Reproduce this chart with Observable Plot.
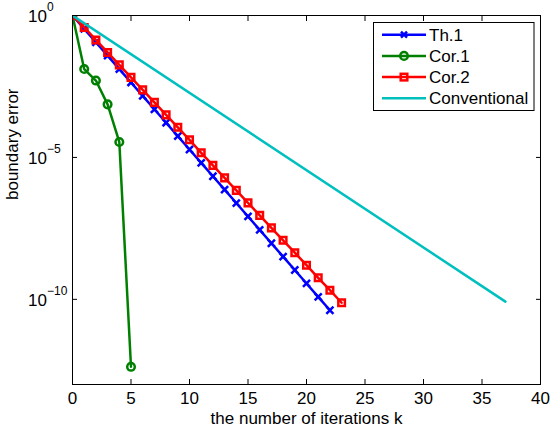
<!DOCTYPE html>
<html><head><meta charset="utf-8">
<script src="https://cdn.jsdelivr.net/npm/d3@7"></script>
<script src="https://cdn.jsdelivr.net/npm/@observablehq/plot@0.6"></script>
<style>body{margin:0;background:#fff} svg{display:block}</style>
</head><body><div id="chart"></div>
<script>
const seriesNames = ["Th.1", "Cor.1", "Cor.2", "Conventional"];
const seriesColors = ["#0000ff", "#008000", "#ff0000", "#00bfbf"];

const th1K = [0,1,2,3,4,5,6,7,8,9,10,11,12,13,14,15,16,17,18,19,20,21,22];
const th1Err = [1, 3.37e-1, 1.14e-1, 3.84e-2, 1.29e-2, 4.37e-3, 1.47e-3, 4.97e-4, 1.67e-4, 5.65e-5, 1.9e-5,
  6.43e-6, 2.17e-6, 7.31e-7, 2.47e-7, 8.32e-8, 2.81e-8, 9.46e-9, 3.19e-9, 1.08e-9, 3.63e-10, 1.22e-10, 4.13e-11];

const cor1K = [0,1,2,3,4,5];
const cor1Err = [1, 1.3e-2, 5.1e-3, 7.4e-4, 3.5e-5, 4.2e-13];

const cor2K = [0,1,2,3,4,5,6,7,8,9,10,11,12,13,14,15,16,17,18,19,20,21,22,23];
const cor2Err = [1, 3.8e-1, 1.38e-1, 5.0e-2, 1.82e-2, 6.6e-3, 2.4e-3, 8.7e-4, 3.16e-4, 1.15e-4, 4.17e-5,
  1.45e-5, 5.25e-6, 1.9e-6, 6.9e-7, 2.5e-7, 9.1e-8, 3.3e-8, 1.2e-8, 4.4e-9, 1.6e-9, 5.75e-10, 2.1e-10, 7.6e-11];

const convK = [0, 37];
const convErr = [1, 8.3e-11];

const xTicks = [0,5,10,15,20,25,30,35,40];
const yTicks = [1, 1e-5, 1e-10];
const yTickBase = ["10", "10", "10"];
const yTickExp = ["0", "\u22125", "\u221210"];

const toRows = (ks, vs) => ks.map((k, i) => ({k, e: vs[i]}));
const th1 = toRows(th1K, th1Err);
const cor1 = toRows(cor1K, cor1Err);
const cor2 = toRows(cor2K, cor2Err);
const conv = toRows(convK, convErr);
const yTickRows = yTicks.map((v, i) => ({v, base: yTickBase[i], exp: yTickExp[i]}));

const FONT = "'Liberation Sans', Arial, Helvetica, sans-serif";
const FS = 17;
const LW = 2.5;

const chart = Plot.plot({
  width: 550, height: 432,
  marginLeft: 72, marginRight: 10, marginTop: 15, marginBottom: 48,
  x: {domain: [0, 40]},
  y: {type: "log", domain: [1e-13, 1]},
  style: {fontFamily: FONT, fontSize: FS + "px", background: "white", color: "black"},
  marks: [
    Plot.axisX({ticks: xTicks, tickSize: 0, tickPadding: 7, label: null, fontSize: FS, tickFormat: d => String(d)}),
    Plot.axisX({ticks: xTicks, anchor: "bottom", tickSize: -5, label: null, tickFormat: () => ""}),
    Plot.axisX({ticks: xTicks, anchor: "top", tickSize: -5, label: null, tickFormat: () => ""}),
    Plot.axisY({ticks: yTicks, anchor: "left", tickSize: -5, label: null, tickFormat: () => ""}),
    Plot.axisY({ticks: yTicks, anchor: "right", tickSize: -5, label: null, tickFormat: () => ""}),
    Plot.text(yTickRows, {y: "v", text: "base", frameAnchor: "left", textAnchor: "start", lineAnchor: "bottom", dx: -44.5, dy: 6.5, fontSize: FS}),
    Plot.text(yTickRows, {y: "v", text: "exp", frameAnchor: "left", textAnchor: "start", lineAnchor: "bottom", dx: -25.5, dy: -4.5, fontSize: 12}),
    Plot.text(["the number of iterations k"], {frameAnchor: "bottom", lineAnchor: "bottom", dy: 39, fontSize: FS}),
    Plot.text(["boundary error"], {frameAnchor: "left", lineAnchor: "bottom", rotate: -90, dx: -54.5, fontSize: FS}),
    Plot.line(th1, {x: "k", y: "e", stroke: seriesColors[0], strokeWidth: LW, clip: true}),
    Plot.dot(th1, {x: "k", y: "e", symbol: "times", r: 3.3, stroke: seriesColors[0], strokeWidth: LW, clip: true}),
    Plot.line(cor1, {x: "k", y: "e", stroke: seriesColors[1], strokeWidth: LW, clip: true}),
    Plot.dot(cor1, {x: "k", y: "e", symbol: "circle", r: 3.8, stroke: seriesColors[1], strokeWidth: LW, fill: "none", clip: true}),
    Plot.line(cor2, {x: "k", y: "e", stroke: seriesColors[2], strokeWidth: LW, clip: true}),
    Plot.dot(cor2, {x: "k", y: "e", symbol: "square", r: 3.7, stroke: seriesColors[2], strokeWidth: LW, fill: "none", clip: true}),
    Plot.line(conv, {x: "k", y: "e", stroke: seriesColors[3], strokeWidth: LW, clip: true}),
    Plot.frame({stroke: "black", strokeWidth: 1})
  ]
});
document.getElementById("chart").appendChild(chart);

// Legend (MATLAB style box, top-right inside the axes)
const lg = d3.select(chart).append("g").attr("font-family", FONT).attr("font-size", FS)
  .attr("text-anchor", "start");
lg.append("rect").attr("x", 373.5).attr("y", 22.5).attr("width", 160.5).attr("height", 88)
  .attr("fill", "white").attr("stroke", "black").attr("stroke-width", 1);
seriesNames.forEach((name, i) => {
  const cy = 34.7 + i * 21.2;
  const c = seriesColors[i];
  lg.append("line").attr("x1", 382).attr("x2", 426).attr("y1", cy).attr("y2", cy)
    .attr("stroke", c).attr("stroke-width", LW);
  if (i === 0) {
    lg.append("path").attr("d", `M401,${cy-3}L407,${cy+3}M401,${cy+3}L407,${cy-3}`)
      .attr("stroke", c).attr("stroke-width", LW).attr("fill", "none");
  } else if (i === 1) {
    lg.append("circle").attr("cx", 404).attr("cy", cy).attr("r", 3.8).attr("fill", "none")
      .attr("stroke", c).attr("stroke-width", LW);
  } else if (i === 2) {
    lg.append("rect").attr("x", 400.7).attr("y", cy - 3.3).attr("width", 6.6).attr("height", 6.6)
      .attr("fill", "none").attr("stroke", c).attr("stroke-width", LW);
  }
  lg.append("text").attr("x", 429).attr("y", cy).attr("dy", "0.35em").attr("fill", "black")
    .attr("text-anchor", "start").text(name);
});
</script>
</body></html>
